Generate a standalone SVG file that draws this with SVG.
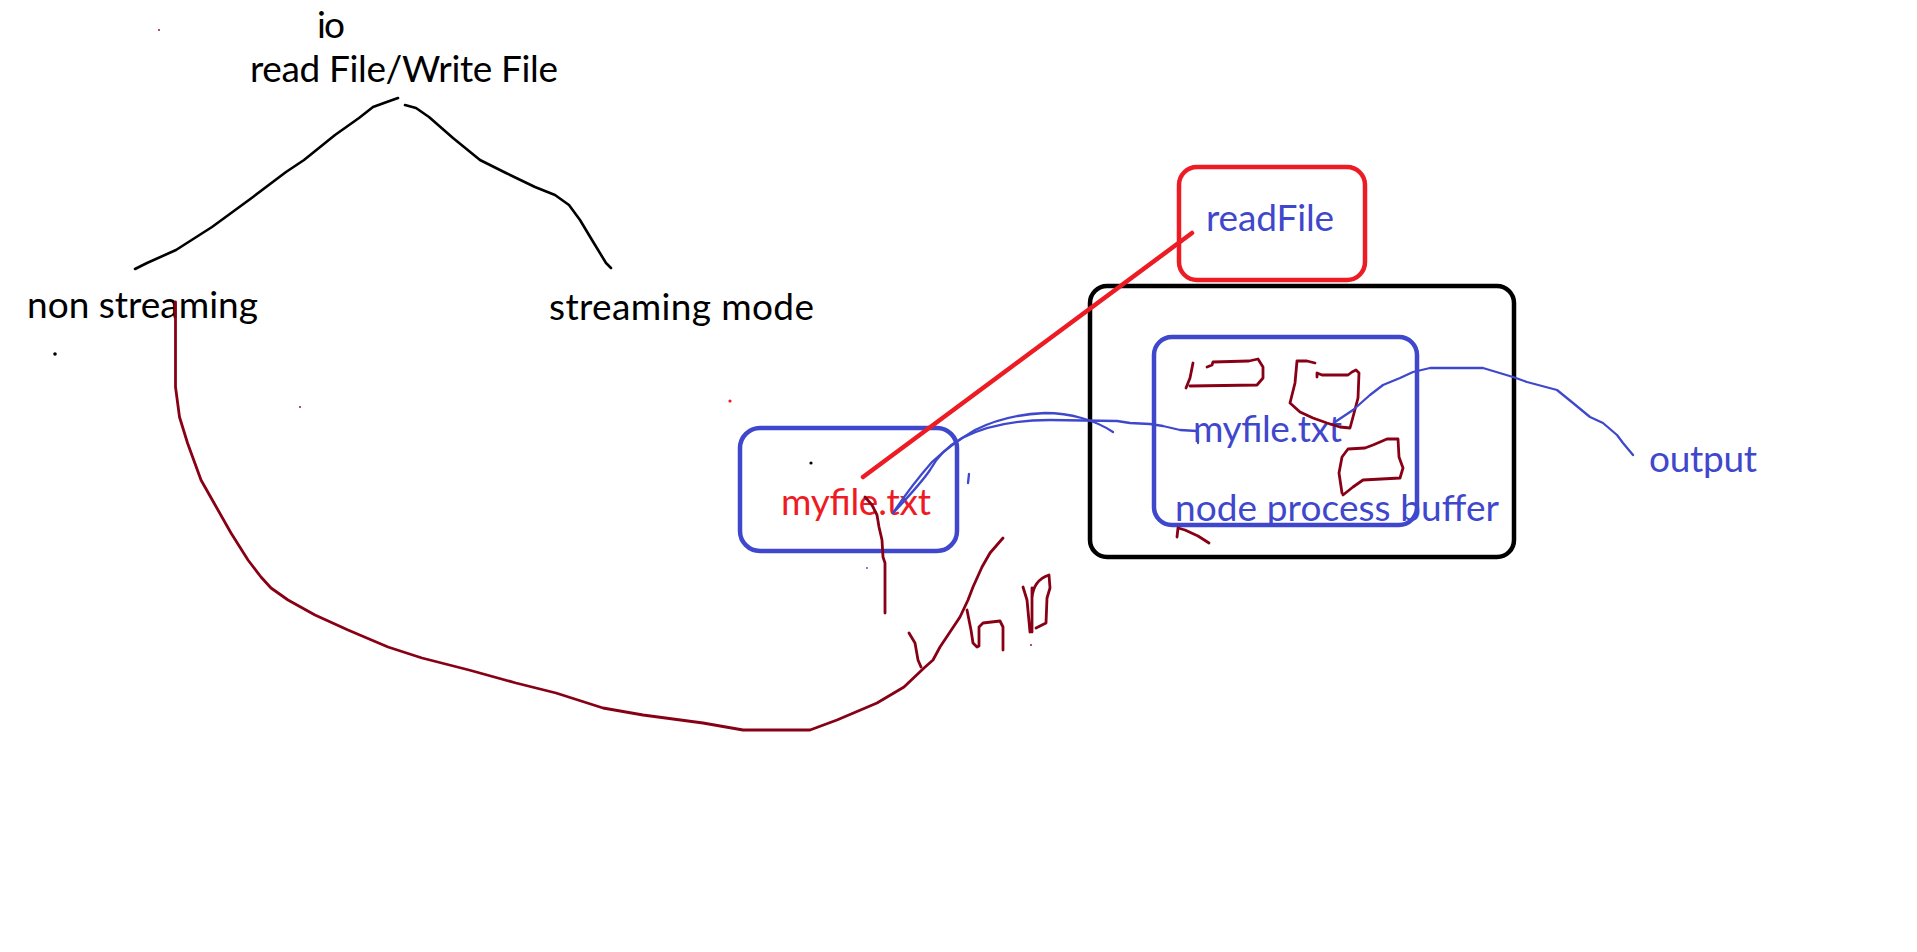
<svg xmlns="http://www.w3.org/2000/svg" width="1917" height="952" viewBox="0 0 1917 952">
<style>
.t{font-family:Lato,"Liberation Sans",Arial,sans-serif;font-size:37px}
.k{fill:#000}
.b{fill:#3F48CC}
.r{fill:#ED1C24}
.box{fill:none;stroke-width:4.5}
.ink{fill:none;stroke-linecap:round;stroke-linejoin:round}
.blk{stroke:#000;stroke-width:2.6}
.dr{stroke:#880015;stroke-width:2.8}
.bl{stroke:#3F48CC;stroke-width:2.3}
.rd{stroke:#ED1C24;stroke-width:4.5}
</style>
<rect width="1917" height="952" fill="#fff"/>
<g id="title">
<text class="t k" x="317" y="38" textLength="28">io</text>
<text class="t k" x="250" y="82" textLength="308">read File/Write File</text>
</g>
<g id="non-streaming">
<text class="t k" x="27" y="318" textLength="231">non streaming</text>
</g>
<g id="streaming-mode">
<text class="t k" x="549" y="320" textLength="265">streaming mode</text>
</g>
<g id="readFile">
<rect class="box" x="1179" y="167" width="186" height="113" rx="18" stroke="#ED1C24"/>
<text class="t b" x="1206" y="231" textLength="128">readFile</text>
</g>
<g id="node-process">
<rect class="box" x="1090" y="286" width="424" height="271" rx="17" stroke="#000"/>
</g>
<g id="node-process-buffer">
<rect class="box" x="1154" y="337" width="263" height="188" rx="18" stroke="#3F48CC"/>
<text class="t b" x="1193" y="442" textLength="149">myfile.txt</text>
<text class="t b" x="1175" y="521" textLength="324">node process buffer</text>
</g>
<g id="myfile">
<rect class="box" x="740" y="428" width="217" height="123" rx="20" stroke="#3F48CC"/>
<text class="t r" x="781" y="515" textLength="150">myfile.txt</text>
</g>
<g id="output">
<text class="t b" x="1649" y="472" textLength="108">output</text>
</g>
<g id="connectors">
<polyline class="ink blk" points="135,269 147,263 176,250 212,227 253,197 286,172 304,160 335,135 359,118 373,107 384,103 398,98"/>
<polyline class="ink blk" points="405,105 416,108 429,117 453,138 480,160 506,173 535,187 555,195 569,205 580,220 592,240 606,263 611,268"/>
<line class="ink rd" x1="1192" y1="233" x2="863" y2="477"/>
<polyline class="ink dr" points="175.5,302 175.5,387 179.5,417 187.5,443 201,480 214,503 231,533 248,560 261,577 271,588 288,600 315,615 348,630 388,647 422,658 469,670 516,683 556,693 603,708 643,715 703,723 743,730 810,730 837,720 877,703 904,687 924,668 933,660 940,647 950,632 960,617 968,600 973,587 982,567 990,553 1003,538"/>
<polyline class="ink dr" points="909,633 915,643 918,660 921,667"/>
<polyline class="ink dr" points="865,497 872,505 877,515 879,527 882,540 883,557 885,563 885,613"/>
<polyline class="ink dr" points="967,610 971,630 973,643 977,647 979,646 979,627 983,623 1000,621 1003,627 1003,650"/>
<path class="ink dr" d="M1023,587 L1027,600 L1030,632 M1032,588 L1032,632 M1032,598 C1033,585 1040,578 1049,575 L1050,588 L1047,598 L1046,623 L1036,628"/>
<path class="ink dr" d="M1193,363 L1190,378 L1186,388 M1190,386 L1257,385 L1263,378 L1263,367 L1258,359 L1249,361 L1213,362 L1212,365 L1207,367"/>
<path class="ink dr" d="M1315,363 L1307,361 L1297,361 L1295,383 L1290,403 L1300,412 L1313,418 L1327,423 L1340,427 L1350,428 L1353,417 L1358,398 L1359,373 L1356,370 L1352,372 L1348,375 L1322,375 L1317,373 L1317,377"/>
<path class="ink dr" d="M1342,493 L1339,473 L1342,457 L1348,449 L1365,448 L1373,445 L1387,439 L1398,439 L1399,457 L1403,468 L1400,478 L1363,480 L1353,487 L1343,495"/>
<path class="ink dr" d="M1177,537 L1178,528 L1185,530 L1198,536 L1209,543"/>
<path class="ink bl" d="M893,513 C905,495 918,478 932,462 C945,450 958,440 975,430 C995,420 1020,414 1045,413 C1070,413 1095,420 1113,432"/>
<path class="ink bl" d="M895,511 C908,497 922,482 930,470 C938,455 948,446 962,438 C985,426 1015,420 1050,420 L1117,421 L1130,423 L1150,424 L1163,426 L1180,430 L1197,431 M1197,433 L1198,443"/>
<polyline class="ink bl" points="1335,422 1353,410 1370,395 1383,385 1400,378 1413,372 1430,368 1483,368 1513,377 1527,382 1557,390 1573,403 1590,417 1603,423 1617,435 1623,443 1633,455"/>
<line class="ink bl" x1="969" y1="474" x2="968" y2="483"/>
<circle cx="55" cy="354" r="1.8" fill="#000"/>
<circle cx="811" cy="463" r="1.6" fill="#000"/>
<circle cx="730" cy="401" r="1.6" fill="#ED1C24"/>
<circle cx="159" cy="30" r="0.9" fill="#880015"/>
<circle cx="300" cy="407" r="0.9" fill="#880015"/>
<circle cx="867" cy="568" r="0.9" fill="#3F48CC"/>
<circle cx="1031" cy="645" r="0.9" fill="#880015"/>
</g>
</svg>
